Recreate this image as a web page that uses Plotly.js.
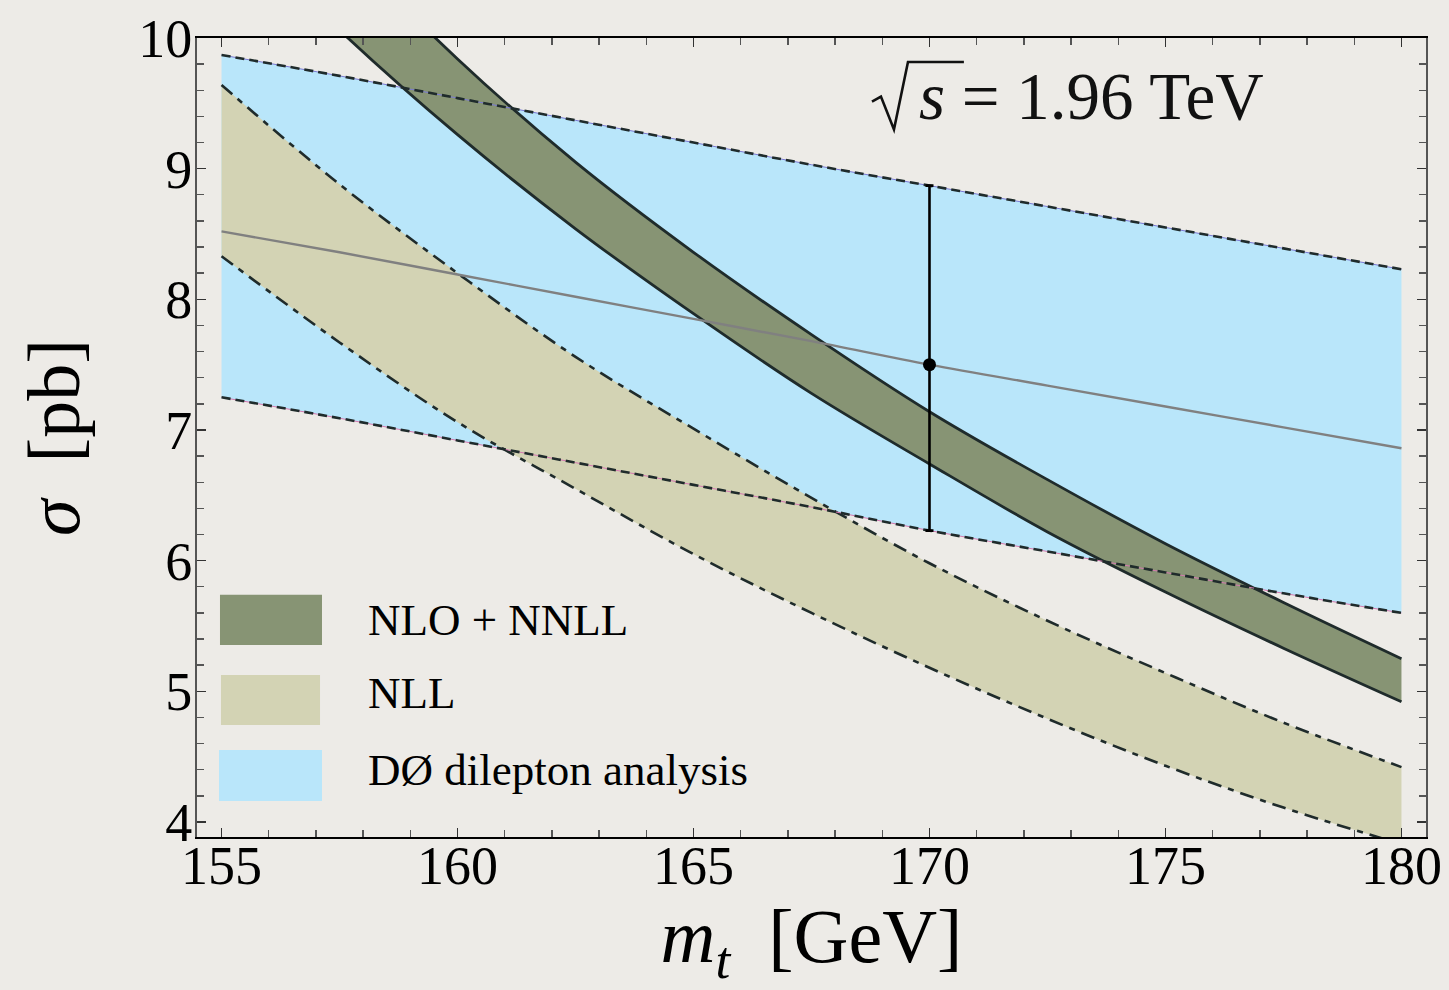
<!DOCTYPE html>
<html>
<head>
<meta charset="utf-8">
<script src="https://cdn.plot.ly/plotly-3.0.1.min.js"></script>
<style>
  html, body { margin: 0; padding: 0; background: #edebe7; }
  #chart { width: 1449px; height: 990px; }
</style>
</head>
<body>
<div id="chart"></div>
<script>
// top-quark mass grid [GeV]
const mt = [155, 157.5, 160, 162.5, 165, 167.5, 170, 172.5, 175, 177.5, 180];

// NLO + NNLL band [pb]
const nnllLow  = [10.96, 10.06, 9.26, 8.54, 7.89, 7.28, 6.74, 6.22, 5.76, 5.33, 4.92];
const nnllHigh = [11.74, 10.74, 9.84, 9.05, 8.36, 7.73, 7.14, 6.62, 6.13, 5.68, 5.25];

// NLL band [pb]
const nllLow  = [8.33, 7.67, 7.06, 6.55, 6.05, 5.60, 5.18, 4.79, 4.43, 4.11, 3.83];
const nllHigh = [9.64, 8.88, 8.20, 7.56, 7.01, 6.48, 5.98, 5.54, 5.14, 4.76, 4.42];

// D0 dilepton measurement, central value and band [pb]
const d0Central = [8.52, 8.36, 8.19, 8.02, 7.85, 7.68, 7.50, 7.34, 7.18, 7.02, 6.86];
const d0Low     = [7.25, 7.09, 6.92, 6.75, 6.58, 6.41, 6.23, 6.07, 5.91, 5.75, 5.60];
const d0High    = [9.87, 9.71, 9.54, 9.37, 9.20, 9.03, 8.87, 8.71, 8.55, 8.39, 8.23];

// measured point at mt = 170 GeV
const pointMt = [170];
const pointSigma = [7.5];
const pointErrUp = [1.37];
const pointErrDown = [1.27];

const legendLabels = ['NLO + NNLL', 'NLL', 'D\u00D8 dilepton analysis'];

const SERIF = 'Liberation Serif, Times New Roman, serif';
const C_D0 = '#b9e6fa';
const C_NLL = '#d3d3b4';
const C_NNLL = '#879474';
const C_EDGE = '#1f2b2b';
const BG = '#edebe7';

function band(lo, hi, fillcolor, line) {
  return [
    { x: mt, y: lo, type: 'scatter', mode: 'lines', line: Object.assign({ shape: 'spline' }, line), hoverinfo: 'skip' },
    { x: mt, y: hi, type: 'scatter', mode: 'lines', fill: 'tonexty', fillcolor: fillcolor,
      line: Object.assign({ shape: 'spline' }, line), hoverinfo: 'skip' }
  ];
}

const noLine = { width: 0, color: 'rgba(0,0,0,0)' };
const nllLine = { width: 2.6, color: C_EDGE, dash: '14px,7px,6px,7px' };
const nnllLine = { width: 2.8, color: C_EDGE };
const d0Dash = { width: 2.6, color: C_EDGE, dash: '9px,5px', shape: 'spline' };

const traces = [
  ...band(d0Low, d0High, C_D0, noLine),
  ...band(nllLow, nllHigh, C_NLL, nllLine),
  ...band(nnllLow, nnllHigh, C_NNLL, nnllLine),
  { x: mt, y: d0Low, mode: 'lines', line: { width: 1, color: '#d47ab0', shape: 'spline' }, hoverinfo: 'skip' },
  { x: mt, y: d0High, mode: 'lines', line: { width: 1, color: '#7a7ad4', shape: 'spline' }, hoverinfo: 'skip' },
  { x: mt, y: d0Low, mode: 'lines', line: d0Dash, hoverinfo: 'skip' },
  { x: mt, y: d0High, mode: 'lines', line: d0Dash, hoverinfo: 'skip' },
  { x: mt, y: d0Central, mode: 'lines', line: { width: 2.4, color: '#808080', shape: 'spline' }, hoverinfo: 'skip' },
  { x: pointMt, y: pointSigma, mode: 'markers', type: 'scatter',
    marker: { size: 13, color: '#000' },
    error_y: { type: 'data', symmetric: false, array: pointErrUp, arrayminus: pointErrDown,
               color: '#000', thickness: 2.6, width: 4 },
    hoverinfo: 'skip' }
];

// legend swatches and labels
const swatches = [
  { color: C_NNLL, x0: 0.0187, x1: 0.1017, y0: 0.2404, y1: 0.3031, ty: 0.2718 },
  { color: C_NLL,  x0: 0.0195, x1: 0.1001, y0: 0.1403, y1: 0.2029, ty: 0.1803 },
  { color: C_D0,   x0: 0.0179, x1: 0.1017, y0: 0.0451, y1: 0.1090, ty: 0.0839 }
];
const shapes = swatches.map(s => ({
  type: 'rect', xref: 'paper', yref: 'paper', x0: s.x0, x1: s.x1, y0: s.y0, y1: s.y1,
  fillcolor: s.color, line: { width: 0 }, layer: 'above'
}));

// radical sign over the energy label
shapes.push({
  type: 'path', xref: 'paper', yref: 'paper', layer: 'above',
  path: 'M 0.5492 0.9205 L 0.5565 0.9267 L 0.5671 0.8854 L 0.5785 0.9700 L 0.6240 0.9700',
  line: { color: '#111', width: 2.6 }
});

const annotations = swatches.map((s, i) => ({
  xref: 'paper', yref: 'paper', x: 0.1375, y: s.ty, xanchor: 'left', yanchor: 'middle',
  text: legendLabels[i], showarrow: false, font: { family: SERIF, size: 45, color: '#000' }
}));
annotations.push({
  xref: 'paper', yref: 'paper', x: 0.5860, y: 0.9280, xanchor: 'left', yanchor: 'middle',
  text: '<i>s</i> = 1.96 TeV',
  showarrow: false, font: { family: SERIF, size: 67, color: '#111' }
});

const layout = {
  width: 1449, height: 990,
  paper_bgcolor: BG, plot_bgcolor: BG,
  margin: { l: 197, r: 23, t: 38, b: 153 },
  showlegend: false,
  shapes: shapes,
  annotations: annotations,
  xaxis: {
    range: [154.48, 180.52], tickmode: 'linear', tick0: 155, dtick: 5,
    ticks: 'inside', ticklen: 9, tickwidth: 1.6, tickcolor: '#333',
    minor: { dtick: 1, ticks: 'inside', ticklen: 7, tickwidth: 1.4, tickcolor: '#555' },
    showline: true, linecolor: '#000', linewidth: 2, mirror: 'allticks',
    showgrid: false, zeroline: false,
    ticklabelstandoff: -20,
    tickfont: { family: SERIF, size: 54, color: '#000' },
    title: { text: '<i>m</i><sub><i>t</i></sub>\u2002[GeV]', font: { family: SERIF, size: 76, color: '#000' }, standoff: 15 }
  },
  yaxis: {
    range: [3.885, 10.0], tickmode: 'linear', tick0: 0, dtick: 1,
    ticks: 'inside', ticklen: 9, tickwidth: 1.6, tickcolor: '#333',
    minor: { dtick: 0.2, ticks: 'inside', ticklen: 7, tickwidth: 1.4, tickcolor: '#555' },
    showline: true, linecolor: '#555', linewidth: 2, mirror: 'allticks',
    showgrid: false, zeroline: false,
    ticklabelstandoff: -8,
    tickfont: { family: SERIF, size: 54, color: '#000' },
    title: { text: '<i>\u03C3</i>\u2002[pb]', font: { family: SERIF, size: 74, color: '#000' }, standoff: 34 }
  }
};

Plotly.newPlot('chart', traces, layout, { staticPlot: true, displayModeBar: false });
</script>
</body>
</html>
